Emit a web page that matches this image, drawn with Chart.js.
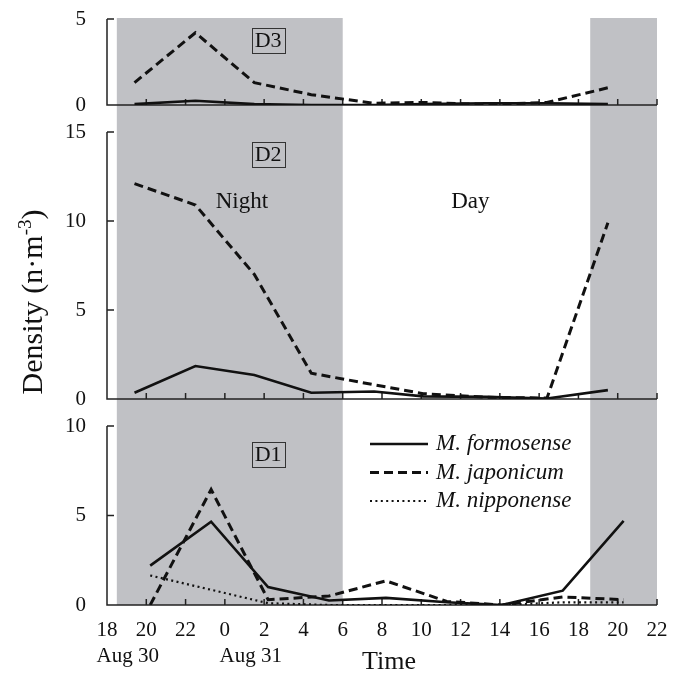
<!DOCTYPE html>
<html><head><meta charset="utf-8">
<script src="https://cdn.jsdelivr.net/npm/chart.js@4/dist/chart.umd.min.js"></script>
<style>
html,body{margin:0;padding:0;background:#fff;}
#wrap{position:relative;width:673px;height:678px;overflow:hidden;}
canvas{position:absolute;left:0;top:0;}
</style></head><body>
<div id="wrap">
<canvas id="cD1" width="673" height="678"></canvas>
<canvas id="cD2" width="673" height="678"></canvas>
<canvas id="cD3" width="673" height="678"></canvas>
</div>
<script>
// ---------------- DATA ----------------
const seriesNames = ['M. formosense', 'M. japonicum', 'M. nipponense'];
// x axis: hours after 18:00 on Aug 30 (0 .. 28), tick labels every 2 h
const hourTickLabels = ['18','20','22','0','2','4','6','8','10','12','14','16','18','20','22'];
const dateLabels = ['Aug 30', 'Aug 31'];
// night periods (hours after 18:00 Aug 30)
const nightPeriods = [[0.5, 12.0], [24.6, 28.0]];

// sampling times (hours after 18:00 Aug 30)
const timesD3 = [1.4, 4.5, 7.5, 10.4, 13.6, 16.1, 19.3, 22.4, 25.5];
const timesD2 = [1.4, 4.5, 7.5, 10.4, 13.6, 16.1, 19.3, 22.4, 25.5];
const timesD1 = [2.2, 5.3, 8.2, 11.3, 14.2, 17.3, 20.1, 23.2, 26.3];

// D3 densities (n·m-3)
const d3Formosense = [0.05, 0.25, 0.05, 0.0, 0.0, 0.05, 0.1, 0.1, 0.05];
const d3Japonicum  = [1.3, 4.2, 1.3, 0.6, 0.1, 0.15, 0.03, 0.15, 1.0];
// D2 densities
const d2Formosense = [0.35, 1.85, 1.35, 0.35, 0.42, 0.15, 0.12, 0.03, 0.5];
const d2Japonicum  = [12.1, 10.9, 7.0, 1.45, 0.8, 0.3, 0.1, 0.05, 9.9];
// D1 densities
const d1Formosense = [2.2, 4.65, 1.0, 0.25, 0.4, 0.15, 0.0, 0.8, 4.7];
const d1Japonicum  = [0.0, 6.45, 0.3, 0.5, 1.35, 0.2, 0.0, 0.45, 0.3];
const d1Nipponense = [1.65, 0.85, 0.1, 0.0, 0.0, 0.0, 0.0, 0.15, 0.15];

// ---------------- STYLE ----------------
const SERIF = '"Liberation Serif", "Times New Roman", serif';
const SHADE = '#c0c1c5';
const INK = '#111111';
const AXIS = '#222222';
const lineStyles = [
  { borderWidth: 2.6, borderDash: [] },
  { borderWidth: 3, borderDash: [9, 5] },
  { borderWidth: 2.2, borderDash: [2, 3.4] }
];

function pts(times, vals) { return vals.map((v, i) => ({ x: times[i], y: v })); }
function ds(idx, times, vals) {
  return Object.assign({
    label: seriesNames[idx], data: pts(times, vals),
    borderColor: INK, backgroundColor: INK, pointRadius: 0,
    tension: 0, fill: false, borderCapStyle: 'butt', borderJoinStyle: 'miter'
  }, lineStyles[idx]);
}

// ---------------- PLUGIN ----------------
const decor = {
  id: 'decor',
  beforeDatasetsDraw(chart, args, o) {
    const { ctx, scales: { x: xs, y: ys } } = chart;
    const y0 = ys.getPixelForValue(0), yTop = ys.getPixelForValue(ys.max);
    const xL = xs.getPixelForValue(xs.min), xR = xs.getPixelForValue(xs.max);
    ctx.save();
    // night shading
    ctx.fillStyle = SHADE;
    nightPeriods.forEach(([a, b]) => {
      const x0 = xs.getPixelForValue(a), x1 = xs.getPixelForValue(b);
      ctx.fillRect(x0, o.shadeTop, x1 - x0, y0 - o.shadeTop);
    });
    // axes with inward ticks
    ctx.strokeStyle = AXIS; ctx.lineWidth = 1.5;
    ctx.beginPath();
    ctx.moveTo(xL, yTop); ctx.lineTo(xL, y0); ctx.lineTo(xR, y0);
    ys.ticks.forEach(t => { const yy = ys.getPixelForValue(t.value); ctx.moveTo(xL, yy); ctx.lineTo(xL + 7, yy); });
    xs.ticks.forEach(t => { const xx = xs.getPixelForValue(t.value); ctx.moveTo(xx, y0); ctx.lineTo(xx, y0 - 6); });
    ctx.stroke();
    // panel label box
    ctx.font = '22px ' + SERIF;
    ctx.textAlign = 'center'; ctx.textBaseline = 'middle';
    const lx = xs.getPixelForValue(o.labelHour), ly = chart.chartArea.top + o.labelDy;
    const w = ctx.measureText(o.label).width + 6, h = 25;
    ctx.fillStyle = SHADE; ctx.fillRect(lx - w / 2, ly - h / 2, w, h);
    ctx.lineWidth = 1; ctx.strokeStyle = '#333';
    ctx.strokeRect(Math.round(lx - w / 2) + 0.5, Math.round(ly - h / 2) + 0.5, Math.round(w), h);
    ctx.fillStyle = INK; ctx.fillText(o.label, lx, ly + 1);
    // free text notes
    (o.notes || []).forEach(n => {
      ctx.font = '23px ' + SERIF;
      ctx.fillText(n.text, xs.getPixelForValue(n.hour), chart.chartArea.top + n.dy);
    });
    ctx.restore();
  },
  afterDraw(chart, args, o) {
    const { ctx, scales: { x: xs } } = chart;
    ctx.save();
    ctx.fillStyle = INK;
    if (o.legend) {
      ctx.font = 'italic 23px ' + SERIF;
      ctx.textAlign = 'left'; ctx.textBaseline = 'middle';
      chart.data.datasets.forEach((d, i) => {
        const yy = o.legend.y + i * o.legend.gap;
        ctx.beginPath();
        ctx.strokeStyle = INK; ctx.lineWidth = d.borderWidth; ctx.setLineDash(d.borderDash);
        ctx.moveTo(o.legend.x, yy); ctx.lineTo(o.legend.x + 58, yy); ctx.stroke();
        ctx.setLineDash([]);
        ctx.fillText(d.label, o.legend.x + 66, yy);
      });
    }
    if (o.dates) {
      ctx.font = '21px ' + SERIF;
      ctx.textAlign = 'left'; ctx.textBaseline = 'alphabetic';
      const t0 = ctx.measureText(hourTickLabels[0]).width / 2;
      const t1 = ctx.measureText(hourTickLabels[3]).width / 2;
      ctx.fillText(dateLabels[0], xs.getPixelForValue(0) - t0, 662);
      ctx.fillText(dateLabels[1], xs.getPixelForValue(6) - t1, 662);
      ctx.font = '26px ' + SERIF; ctx.textAlign = 'center';
      ctx.fillText('Time', 389, 669);
    }
    if (o.yTitle) {
      ctx.translate(42, 302);
      ctx.rotate(-Math.PI / 2);
      const big = '30px ' + SERIF, small = '19px ' + SERIF;
      const parts = [['Density (n\u00b7m', big, 0], ['-3', small, -11], [')', big, 0]];
      let total = 0;
      parts.forEach(p => { ctx.font = p[1]; total += ctx.measureText(p[0]).width; });
      let x = -total / 2;
      ctx.textAlign = 'left'; ctx.textBaseline = 'alphabetic';
      parts.forEach(p => { ctx.font = p[1]; ctx.fillText(p[0], x, p[2]); x += ctx.measureText(p[0]).width; });
    }
    ctx.restore();
  }
};

// ---------------- CHARTS ----------------
const W = 673, H = 678, LEFT = 107, RIGHT = 657;
function makeChart(id, datasets, yMax, top, bottom, showX, decorOpts) {
  return new Chart(document.getElementById(id), {
    type: 'line',
    data: { datasets },
    plugins: [decor],
    options: {
      responsive: false, animation: false, devicePixelRatio: 1,
      layout: { padding: { left: LEFT - 60, right: W - RIGHT, top: top, bottom: showX ? 0 : H - bottom } },
      plugins: { legend: { display: false }, tooltip: { enabled: false }, decor: decorOpts },
      scales: {
        x: {
          type: 'linear', min: 0, max: 28,
          grid: { display: false, drawTicks: false }, border: { display: false },
          ticks: {
            display: showX, stepSize: 2, autoSkip: false, maxRotation: 0, padding: 13,
            color: INK, font: { family: SERIF, size: 21 },
            callback: (v, i) => hourTickLabels[i]
          },
          afterFit: s => { s.height = showX ? H - bottom : 0; s.paddingLeft = 0; s.paddingRight = 0; }
        },
        y: {
          min: 0, max: yMax,
          grid: { display: false, drawTicks: false }, border: { display: false },
          ticks: { stepSize: 5, padding: 21, color: INK, font: { family: SERIF, size: 21 } },
          afterFit: s => { s.width = 60; s.paddingTop = 0; s.paddingBottom = 0; }
        }
      }
    }
  });
}

makeChart('cD1', [ds(0, timesD1, d1Formosense), ds(1, timesD1, d1Japonicum), ds(2, timesD1, d1Nipponense)],
  10, 426, 605, true,
  { shadeTop: 399, label: 'D1', labelHour: 8.2, labelDy: 28, legend: { x: 370, y: 444, gap: 28.5 }, dates: true });
makeChart('cD2', [ds(0, timesD2, d2Formosense), ds(1, timesD2, d2Japonicum)],
  15, 132, 399, false,
  { shadeTop: 105, label: 'D2', labelHour: 8.2, labelDy: 22,
    notes: [{ text: 'Night', hour: 6.87, dy: 70 }, { text: 'Day', hour: 18.5, dy: 70 }], yTitle: true });
makeChart('cD3', [ds(0, timesD3, d3Formosense), ds(1, timesD3, d3Japonicum)],
  5, 19, 105, false,
  { shadeTop: 18, label: 'D3', labelHour: 8.2, labelDy: 21 });
</script>
</body></html>
